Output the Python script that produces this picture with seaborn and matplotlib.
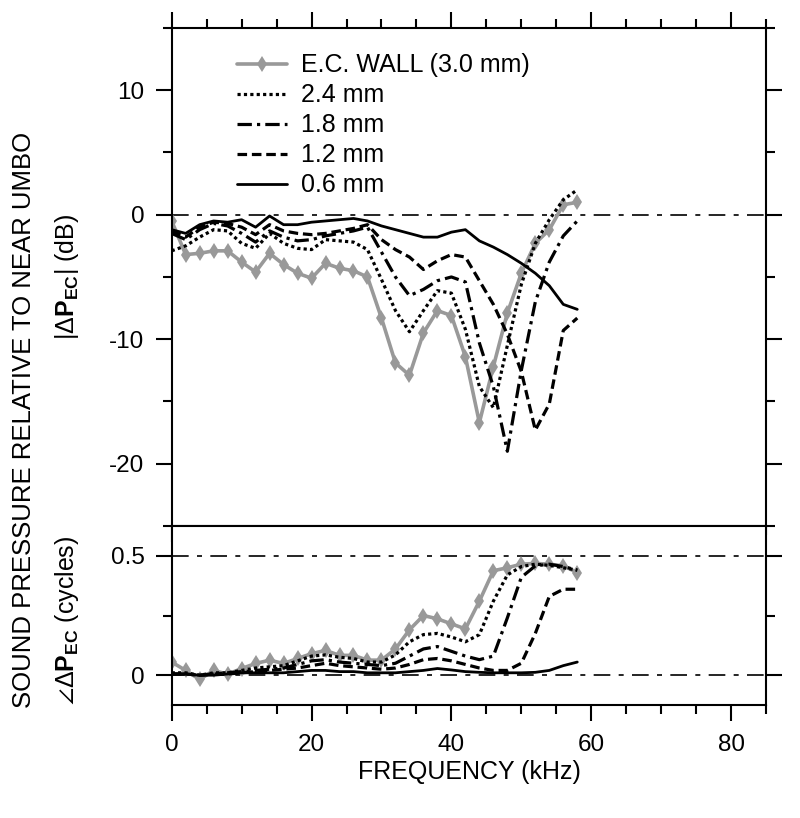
import numpy as np
import pandas as pd
import matplotlib
matplotlib.use('Agg')
import matplotlib.pyplot as plt
from matplotlib.ticker import MultipleLocator
import seaborn as sns

# frequency grid (kHz)
freq = [0, 2, 4, 6, 8, 10, 12, 14, 16, 18, 20, 22, 24, 26, 28,
        30, 32, 34, 36, 38, 40, 42, 44, 46, 48, 50, 52, 54, 56, 58]

# magnitude |dP_EC| (dB)
mag_wall = [-0.5, -3.2, -3.1, -2.9, -2.9, -3.8, -4.6, -3.1, -4.0, -4.7, -5.1, -3.9, -4.3, -4.5, -5.0,
            -8.3, -11.9, -12.9, -9.5, -7.7, -8.1, -11.4, -16.7, -12.2, -7.9, -4.7, -2.3, -1.2, 0.8, 1.0]
mag_24 = [-2.9, -2.5, -1.8, -1.2, -1.3, -2.3, -2.7, -1.5, -2.3, -2.7, -2.8, -2.0, -2.1, -2.2, -2.8,
          -5.2, -7.7, -9.4, -7.7, -6.1, -6.3, -9.2, -13.8, -15.5, -10.5, -5.6, -2.3, -0.4, 1.2, 2.0]
mag_18 = [-1.5, -2.0, -1.2, -0.7, -0.9, -1.5, -2.2, -1.3, -1.8, -2.1, -2.0, -1.7, -1.5, -1.3, -1.0,
          -3.0, -5.0, -6.5, -6.0, -5.3, -5.0, -5.4, -10.3, -13.8, -19.0, -12.5, -7.0, -3.8, -1.7, -0.5]
mag_12 = [-1.3, -1.8, -1.0, -0.6, -0.7, -1.0, -1.6, -0.8, -1.3, -1.5, -1.6, -1.5, -1.3, -1.1, -0.8,
          -2.0, -2.8, -3.4, -4.4, -3.7, -3.2, -3.4, -5.3, -7.2, -9.6, -12.6, -17.3, -15.2, -9.3, -8.3]
mag_06 = [-1.2, -1.5, -0.8, -0.5, -0.6, -0.4, -1.0, -0.1, -0.8, -0.8, -0.6, -0.5, -0.4, -0.3, -0.5,
          -0.9, -1.2, -1.5, -1.8, -1.8, -1.4, -1.2, -2.1, -2.6, -3.2, -3.9, -4.7, -5.7, -7.2, -7.6]

# phase of dP_EC (cycles)
ph_wall = [0.055, 0.02, -0.018, 0.02, 0.004, 0.028, 0.049, 0.063, 0.049, 0.07, 0.09, 0.104, 0.083, 0.083, 0.063,
           0.063, 0.11, 0.19, 0.25, 0.236, 0.215, 0.194, 0.31, 0.4375, 0.45, 0.465, 0.468, 0.465, 0.458, 0.43]
ph_24 = [0.01, 0.01, 0.0, 0.01, 0.01, 0.02, 0.03, 0.035, 0.04, 0.06, 0.08, 0.085, 0.075, 0.07, 0.055,
         0.055, 0.085, 0.14, 0.17, 0.175, 0.16, 0.14, 0.17, 0.31, 0.42, 0.455, 0.465, 0.46, 0.45, 0.44]
ph_18 = [0.005, 0.005, 0.0, 0.005, 0.01, 0.015, 0.02, 0.025, 0.03, 0.045, 0.06, 0.065, 0.055, 0.05, 0.045,
         0.04, 0.05, 0.08, 0.11, 0.12, 0.10, 0.08, 0.065, 0.08, 0.24, 0.41, 0.458, 0.465, 0.455, 0.44]
ph_12 = [0.005, 0.005, 0.0, 0.005, 0.005, 0.01, 0.015, 0.02, 0.025, 0.03, 0.04, 0.05, 0.04, 0.035, 0.03,
         0.025, 0.03, 0.045, 0.065, 0.07, 0.06, 0.045, 0.03, 0.02, 0.02, 0.05, 0.175, 0.33, 0.36, 0.36]
ph_06 = [0.005, 0.005, 0.0, 0.0, 0.005, 0.01, 0.01, 0.01, 0.01, 0.015, 0.02, 0.02, 0.015, 0.015, 0.01,
         0.01, 0.01, 0.015, 0.02, 0.028, 0.022, 0.015, 0.012, 0.01, 0.01, 0.01, 0.012, 0.02, 0.04, 0.055]

labels = ['E.C. WALL (3.0 mm)', '2.4 mm', '1.8 mm', '1.2 mm', '0.6 mm']

sns.set_theme(style='ticks')
plt.rcParams['font.family'] = ['Liberation Sans', 'DejaVu Sans']
plt.rcParams['mathtext.fontset'] = 'custom'
plt.rcParams['mathtext.rm'] = 'Liberation Sans'
plt.rcParams['mathtext.bf'] = 'Liberation Sans:bold'
plt.rcParams['mathtext.fallback'] = 'stixsans'
plt.rcParams['axes.unicode_minus'] = False
for k in ['text.color', 'axes.labelcolor', 'xtick.color', 'ytick.color', 'axes.edgecolor']:
    plt.rcParams[k] = 'black'

# line styles: (color, lw, linestyle, marker)
styles = [
    ('#999999', 2.6, '-', 'd'),
    ('black', 2.3, (0, (1, 1)), None),
    ('black', 2.3, (0, (4.5, 1.6, 1, 1.6)), None),
    ('black', 2.3, (0, (3, 1.5)), None),
    ('black', 2.0, '-', None),
]
ref_ls = (0, (10, 5, 3, 5))

fig = plt.figure(figsize=(8, 8.18), dpi=100)
ax1 = fig.add_axes([0.2146, 0.357, 0.743, 0.6088])
ax2 = fig.add_axes([0.2146, 0.1381, 0.743, 0.2189])

mags = [mag_wall, mag_24, mag_18, mag_12, mag_06]
phs = [ph_wall, ph_24, ph_18, ph_12, ph_06]

ax1.axhline(0, color='black', lw=1.2, linestyle=ref_ls, zorder=1)
ax2.axhline(0, color='black', lw=1.2, linestyle=ref_ls, zorder=1)
ax2.axhline(0.5, color='black', lw=1.2, linestyle=ref_ls, zorder=1)

for (c, lw, ls, mk), lab, m, p in zip(styles, labels, mags, phs):
    kw = dict(color=c, lw=lw, linestyle=ls, zorder=2 if mk else 3)
    if mk:
        kw.update(marker=mk, markersize=8, markeredgewidth=0, markerfacecolor=c)
    sns.lineplot(x=freq, y=m, ax=ax1, label=lab, **kw)
    sns.lineplot(x=freq, y=p, ax=ax2, **kw)

for ax in (ax1, ax2):
    ax.set_xlim(0, 85)
    ax.xaxis.set_major_locator(MultipleLocator(20))
    ax.xaxis.set_minor_locator(MultipleLocator(5))
    ax.set_xlabel('')
    ax.set_ylabel('')
    for s in ax.spines.values():
        s.set_linewidth(1.5)
        s.set_visible(True)
    ax.tick_params(which='both', direction='out', width=1.5, colors='black',
                   labelsize=17.5, left=True, right=True)
    ax.tick_params(which='major', length=11.5)
    ax.tick_params(which='minor', length=6.5)
    ax.tick_params(axis='y', pad=8)
    ax.tick_params(axis='x', pad=9)

ax1.set_ylim(-25, 15)
ax1.yaxis.set_major_locator(MultipleLocator(10))
ax1.yaxis.set_minor_locator(MultipleLocator(5))
ax1.tick_params(axis='x', which='both', top=True, bottom=True, labelbottom=False)

ax2.set_ylim(-0.125, 0.625)
ax2.set_yticks([0, 0.5])
ax2.set_yticklabels(['0', '0.5'])
ax2.yaxis.set_minor_locator(MultipleLocator(0.25))
ax2.tick_params(axis='x', which='both', top=False, bottom=True)

leg = ax1.legend(loc='upper left', bbox_to_anchor=(0.11, 0.949), frameon=False,
                 fontsize=18, handlelength=2.0, handletextpad=0.55,
                 labelspacing=0.24, borderpad=0, borderaxespad=0)

fig.text(24 / 800, 1 - 420 / 818, 'SOUND PRESSURE RELATIVE TO NEAR UMBO',
         rotation=90, ha='center', va='center', fontsize=18.5)
fig.text(67 / 800, 1 - 277 / 818, r'|$\Delta\mathbf{P}_{\mathbf{EC}}$| (dB)',
         rotation=90, ha='center', va='center', fontsize=18)
fig.text(67 / 800, 1 - 620 / 818, r'$\angle\Delta\mathbf{P}_{\mathbf{EC}}$ (cycles)',
         rotation=90, ha='center', va='center', fontsize=18)
fig.text(469 / 800, 1 - 772 / 818, 'FREQUENCY (kHz)', ha='center', va='center', fontsize=18)

fig.savefig('out.png', dpi=100)
